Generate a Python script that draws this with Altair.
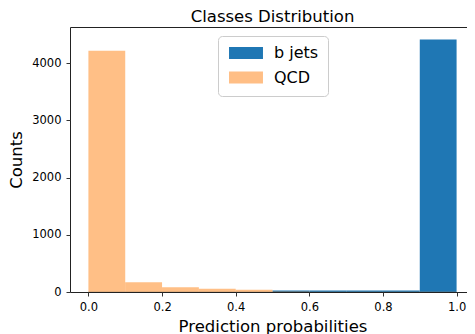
import altair as alt
import pandas as pd

# histogram bins (left edges) and counts per class
bin_start = [0.0, 0.1, 0.2, 0.3, 0.4, 0.5, 0.6, 0.7, 0.8, 0.9]
bin_width = 0.1
bjets = [3, 3, 3, 4, 5, 28, 26, 25, 27, 4409]
qcd = [4216, 170, 82, 58, 40, 9, 6, 5, 5, 3]
series_names = ["b jets", "QCD"]
series_colors = ["#1f77b4", "#ff7f0e"]
series_alpha = [1.0, 0.5]
x_ticks = [0.0, 0.2, 0.4, 0.6, 0.8, 1.0]
y_ticks = [0, 1000, 2000, 3000, 4000]

rows = []
for name, vals in zip(series_names, [bjets, qcd]):
    for b, v in zip(bin_start, vals):
        rows.append({"series": name, "start": b, "end": round(b + bin_width, 2), "count": v})
df = pd.DataFrame(rows)

ymax = max(max(bjets), max(qcd)) * 1.05

FONT = "DejaVu Sans"

chart = alt.Chart(df).mark_rect(strokeWidth=0).encode(
    x=alt.X("start:Q",
            scale=alt.Scale(domain=[-0.05, 1.05], nice=False, zero=False),
            axis=alt.Axis(values=x_ticks, format=".1f", title="Prediction probabilities",
                          grid=False, domain=False, labelPadding=5, titlePadding=6)),
    x2="end:Q",
    y=alt.Y("count:Q",
            scale=alt.Scale(domain=[0, ymax], nice=False),
            axis=alt.Axis(values=y_ticks, format="d", title="Counts",
                          grid=False, domain=False, labelPadding=5, titlePadding=7)),
    y2=alt.datum(0),
    color=alt.Color("series:N",
                    scale=alt.Scale(domain=series_names, range=series_colors),
                    legend=alt.Legend(title=None, orient="none", legendX=148, legendY=9,
                                      symbolType="M-2.83,-1H2.83V1H-2.83Z", symbolSize=144,
                                      symbolOffset=11, labelOffset=20,
                                      labelFontSize=16, labelFont=FONT, labelColor="black",
                                      rowPadding=6.5, padding=9,
                                      strokeColor="#cccccc", fillColor="white",
                                      cornerRadius=4)),
    opacity=alt.Opacity("series:N",
                        scale=alt.Scale(domain=series_names, range=series_alpha)),
).properties(
    width=405,
    height=265,
    title=alt.TitleParams("Classes Distribution", fontSize=16.5, font=FONT,
                          fontWeight="normal", color="black", offset=2),
    autosize=alt.AutoSizeParams(type="none"),
    padding={"left": 62, "top": 19, "right": -8, "bottom": 42},
).configure_view(
    stroke="#222222", strokeWidth=1, strokeOpacity=1
).configure_axis(
    tickColor="#333333", tickSize=4, tickWidth=1,
    labelFont=FONT, labelFontSize=11.5, labelColor="black",
    titleFont=FONT, titleFontSize=16.5, titleFontWeight="normal", titleColor="black",
)

chart.save("out.html", embed_options={"renderer": "svg", "actions": False})
